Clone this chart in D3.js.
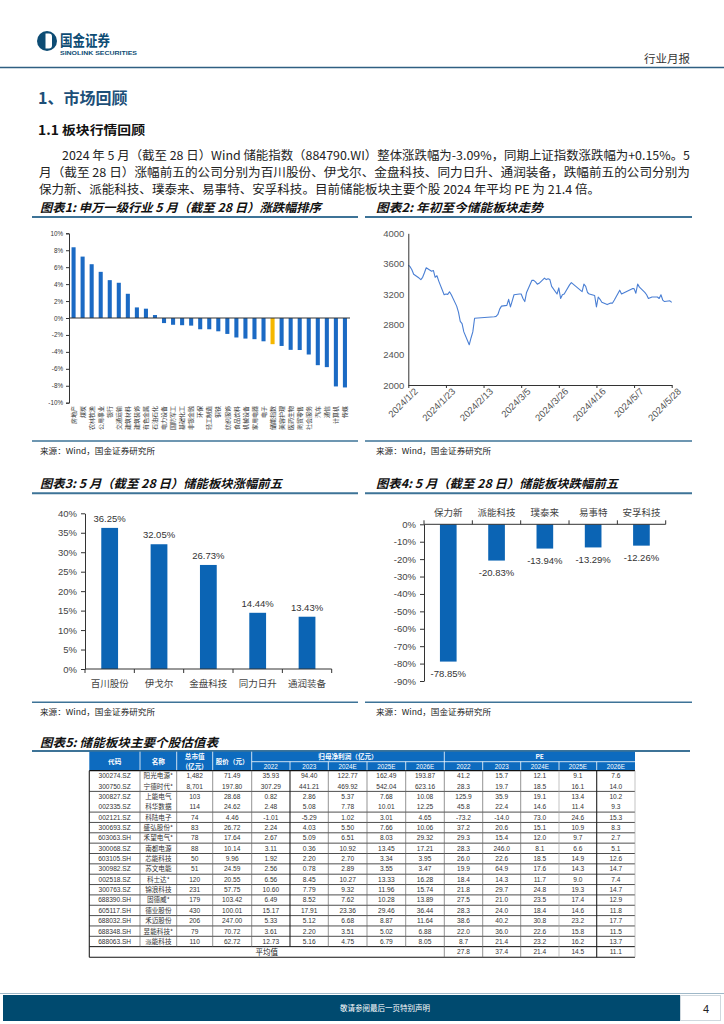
<!DOCTYPE html>
<html><head><meta charset="utf-8">
<script src="https://cdn.jsdelivr.net/npm/d3@7"></script>
<style>body{margin:0;background:#fff} svg{display:block}</style>
</head><body>
<svg id="page" width="724" height="1024"></svg>
<script>
// ---------------- DATA ----------------
const industries = ["房地产","煤炭","农林牧渔","公用事业","银行","交通运输","建筑材料","建筑装饰","有色金属","石油石化","电力设备","国防军工","基础化工","非银金融","环保","轻工制造","钢铁","纺织服饰","食品饮料","机械设备","家用电器","电子","储能指数","美容护理","医药生物","商贸零售","社会服务","汽车","通信","计算机","传媒"];
const industryChange = [8.35,7.25,6.35,5.45,4.47,4.16,2.86,1.25,1.1,0.35,-0.6,-0.8,-0.85,-0.9,-1.33,-1.33,-1.57,-1.88,-2.3,-2.43,-2.5,-2.75,-3.09,-3.3,-3.76,-3.78,-4.31,-5.57,-5.8,-8.08,-8.2];
const highlightIndustry = "储能指数";
const industryTicks = [-10,-8,-6,-4,-2,0,2,4,6,8,10];

const trendDates = ["2024-01-02","2024-01-03","2024-01-04","2024-01-05","2024-01-08","2024-01-09","2024-01-10","2024-01-11","2024-01-12","2024-01-15","2024-01-16","2024-01-17","2024-01-18","2024-01-19","2024-01-22","2024-01-23","2024-01-24","2024-01-25","2024-01-26","2024-01-29","2024-01-30","2024-01-31","2024-02-01","2024-02-02","2024-02-05","2024-02-06","2024-02-07","2024-02-08","2024-02-19","2024-02-20","2024-02-21","2024-02-22","2024-02-23","2024-02-26","2024-02-27","2024-02-28","2024-02-29","2024-03-01","2024-03-04","2024-03-05","2024-03-06","2024-03-07","2024-03-08","2024-03-11","2024-03-12","2024-03-13","2024-03-14","2024-03-15","2024-03-18","2024-03-19","2024-03-20","2024-03-21","2024-03-22","2024-03-25","2024-03-26","2024-03-27","2024-03-28","2024-03-29","2024-04-01","2024-04-02","2024-04-03","2024-04-08","2024-04-09","2024-04-10","2024-04-11","2024-04-12","2024-04-15","2024-04-16","2024-04-17","2024-04-18","2024-04-19","2024-04-22","2024-04-23","2024-04-24","2024-04-25","2024-04-26","2024-04-29","2024-04-30","2024-05-06","2024-05-07","2024-05-08","2024-05-09","2024-05-10","2024-05-13","2024-05-14","2024-05-15","2024-05-16","2024-05-17","2024-05-20","2024-05-21","2024-05-22","2024-05-23","2024-05-24","2024-05-27","2024-05-28"];
const trendValues = [3580,3560,3520,3460,3410,3390,3420,3480,3545,3500,3510,3420,3440,3370,3190,3200,3195,3230,3190,3040,2960,2840,2810,2700,2530,2620,2700,2880,2900,2905,2930,3000,3040,3050,3130,3030,3110,3190,3200,3200,3140,3100,3220,3380,3380,3360,3330,3340,3410,3390,3400,3390,3300,3200,3280,3140,3190,3200,3320,3350,3330,3230,3330,3300,3220,3200,3180,3030,3160,3130,3090,3060,3070,3080,3080,3120,3250,3200,3270,3270,3210,3330,3290,3220,3190,3140,3150,3160,3160,3140,3190,3120,3100,3110,3090];
const trendTickDates = ["2024-01-02","2024-01-23","2024-02-13","2024-03-05","2024-03-26","2024-04-16","2024-05-07","2024-05-28"];
const trendYTicks = [2000,2400,2800,3200,3600,4000];

const gainNames = ["百川股份","伊戈尔","金盘科技","同力日升","通润装备"];
const gainValues = [36.25,32.05,26.73,14.44,13.43];
const gainTicks = [0,5,10,15,20,25,30,35,40];
const lossNames = ["保力新","派能科技","璞泰来","易事特","安孚科技"];
const lossValues = [-78.85,-20.83,-13.94,-13.29,-12.26];
const lossTicks = [0,-10,-20,-30,-40,-50,-60,-70,-80,-90];

const tableYears = ["2022","2023","2024E","2025E","2026E"];
const stockCodes = ["300274.SZ","300750.SZ","300827.SZ","002335.SZ","002121.SZ","300693.SZ","603063.SH","300068.SZ","603105.SH","300982.SZ","002518.SZ","300763.SZ","688390.SH","605117.SH","688032.SH","688348.SH","688063.SH"];
const stockNames = ["阳光电源*","宁德时代*","上能电气","科华数据","科陆电子","盛弘股份*","禾望电气*","南都电源","芯能科技","苏文电能","科士达*","锦浪科技","固德威*","德业股份","禾迈股份","昱能科技*","派能科技"];
const marketCaps = ["1,482","8,701","103","114","74","83","78","88","50","51","120","231","179","430","206","79","110"];
const stockPrices = ["71.49","197.80","28.68","24.62","4.46","26.72","17.64","10.14","9.96","24.59","20.55","57.75","103.42","100.01","247.00","70.72","62.72"];
const profit2022 = ["35.93","307.29","0.82","2.48","-1.01","2.24","2.67","3.11","1.92","2.56","6.56","10.60","6.49","15.17","5.33","3.61","12.73"];
const profit2023 = ["94.40","441.21","2.86","5.08","-5.29","4.03","5.09","0.36","2.20","0.78","8.45","7.79","8.52","17.91","5.12","2.20","5.16"];
const profit2024E = ["122.77","469.92","5.37","7.78","1.02","5.50","6.51","10.92","2.70","2.89","10.27","9.32","7.62","23.36","6.68","3.51","4.75"];
const profit2025E = ["162.49","542.04","7.68","10.01","3.01","7.66","8.03","13.45","3.34","3.55","13.33","11.96","10.28","29.46","8.87","5.02","6.79"];
const profit2026E = ["193.87","623.16","10.08","12.25","4.65","10.06","29.32","17.21","3.95","3.47","16.28","15.74","13.89","36.44","11.64","6.88","8.05"];
const pe2022 = ["41.2","28.3","125.9","45.8","-73.2","37.2","29.3","28.3","26.0","19.9","18.4","21.8","27.5","28.3","38.6","22.0","8.7"];
const pe2023 = ["15.7","19.7","35.9","22.4","-14.0","20.6","15.4","246.0","22.6","64.9","14.3","29.7","21.0","24.0","40.2","36.0","21.4"];
const pe2024E = ["12.1","18.5","19.1","14.6","73.0","15.1","12.0","8.1","18.5","17.6","11.7","24.8","23.5","18.4","30.8","22.6","23.2"];
const pe2025E = ["9.1","16.1","13.4","11.4","24.6","10.9","9.7","6.6","14.9","14.3","9.0","19.3","17.4","14.6","23.2","15.8","16.2"];
const pe2026E = ["7.6","14.0","10.2","9.3","15.3","8.3","2.7","5.1","12.6","14.7","7.4","14.7","12.9","11.8","17.7","11.5","13.7"];
const peAverage = ["27.8","37.4","21.4","14.5","11.1"];

// ---------------- DRAW ----------------
const svg = d3.select("#page");
const CJK = "'Noto Sans CJK SC','Noto Sans',sans-serif";
const LAT = "'Liberation Sans',Arial,'Noto Sans CJK SC',sans-serif";
const DARK = "#0d4c74";

// header
svg.append("circle").attr("cx",47).attr("cy",41).attr("r",10).attr("fill",DARK);
svg.append("path").attr("d","M45.5,33.5 h3.5 a3,3 0 0 1 3,3 v9 a3,3 0 0 1 -3,3 h-3.5 z").attr("fill","#fff");
svg.append("text").attr("x",60).attr("y",45.5).attr("font-family",CJK).attr("font-weight","bold")
  .attr("font-size",15).attr("fill",DARK).attr("textLength",50).attr("lengthAdjust","spacingAndGlyphs").text("国金证券");
svg.append("text").attr("x",60).attr("y",55).attr("font-family",LAT).attr("font-weight","bold")
  .attr("font-size",5.6).attr("fill",DARK).attr("textLength",77).attr("lengthAdjust","spacingAndGlyphs").text("SINOLINK SECURITIES");
svg.append("text").attr("x",690).attr("y",63).attr("text-anchor","end").attr("font-family",CJK)
  .attr("font-size",11.5).attr("fill","#333").text("行业月报");
svg.append("line").attr("x1",0).attr("x2",724).attr("y1",67.5).attr("y2",67.5).attr("stroke","#2f5f82").attr("stroke-width",1.5);

svg.append("text").attr("x",38).attr("y",104).attr("font-family",CJK).attr("font-weight","bold")
  .attr("font-size",16).attr("fill","#1d4f78").text("1、市场回顾");
svg.append("text").attr("x",38).attr("y",134.5).attr("font-family",CJK).attr("font-weight",600)
  .attr("font-size",12.5).attr("fill","#111").attr("textLength",107).attr("lengthAdjust","spacingAndGlyphs").text("1.1 板块行情回顾");

const paraLines = [
  {x:62, y:159.5, w:628, t:"2024 年 5 月（截至 28 日）Wind 储能指数（884790.WI）整体涨跌幅为-3.09%，同期上证指数涨跌幅为+0.15%。5"},
  {x:39, y:176.5, w:651, t:"月（截至 28 日）涨幅前五的公司分别为百川股份、伊戈尔、金盘科技、同力日升、通润装备，跌幅前五的公司分别为"},
  {x:39, y:193.5, w:561, t:"保力新、派能科技、璞泰来、易事特、安孚科技。目前储能板块主要个股 2024 年平均 PE 为 21.4 倍。"}
];
paraLines.forEach(p => svg.append("text").attr("x",p.x).attr("y",p.y).attr("font-family",CJK)
  .attr("font-size",12).attr("fill","#222").attr("textLength",p.w).attr("lengthAdjust","spacingAndGlyphs").text(p.t));

function chartTitle(x, y, w, txt, lx1, lx2, ly) {
  svg.append("text").attr("x",x).attr("y",y).attr("font-family",CJK).attr("font-weight","bold")
    .attr("font-style","italic").attr("font-size",12).attr("fill","#111")
    .attr("textLength",w).attr("lengthAdjust","spacingAndGlyphs").text(txt);
  svg.append("line").attr("x1",lx1).attr("x2",lx2).attr("y1",ly).attr("y2",ly).attr("stroke","#3d7397").attr("stroke-width",2);
}
function source(x, y, lx1, lx2, ly) {
  svg.append("line").attr("x1",lx1).attr("x2",lx2).attr("y1",ly).attr("y2",ly).attr("stroke","#3d7397").attr("stroke-width",1.5);
  svg.append("text").attr("x",x).attr("y",y).attr("font-family",CJK).attr("font-size",7.5).attr("fill","#222")
    .attr("textLength",115).attr("lengthAdjust","spacingAndGlyphs").text("来源：Wind，国金证券研究所");
}
function styleAxis(g, fs, col) {
  g.selectAll("path.domain").attr("stroke","#333").attr("stroke-width",1);
  g.selectAll(".tick line").attr("stroke","#333");
  g.selectAll("text").attr("font-family",LAT).attr("font-size",fs).attr("fill",col||"#333");
}

// ---- Chart 1 ----
chartTitle(40, 212, 281, "图表1: 申万一级行业 5 月（截至 28 日）涨跌幅排序", 32, 358, 217);
{
  const x = d3.scaleBand().domain(industries).range([69, 349.5]).paddingInner(0.55).paddingOuter(0.28);
  const y = d3.scaleLinear().domain([-10,10]).range([402.7,233.3]);
  const g = svg.append("g");
  g.selectAll("rect").data(industries).join("rect")
    .attr("x", d => x(d)).attr("width", x.bandwidth())
    .attr("y", (d,i) => y(Math.max(0, industryChange[i])))
    .attr("height", (d,i) => Math.abs(y(industryChange[i]) - y(0)))
    .attr("fill", d => d === highlightIndustry ? "#f5b700" : "#1b6ac4");
  const ya = svg.append("g").attr("transform","translate(69,0)")
    .call(d3.axisLeft(y).tickValues(industryTicks).tickSize(3).tickPadding(3).tickFormat(d => d + "%"));
  styleAxis(ya, 6.3);
  svg.append("line").attr("x1",69).attr("x2",350).attr("y1",y(0)).attr("y2",y(0)).attr("stroke","#333").attr("stroke-width",1);
  svg.append("g").selectAll("text").data(industries).join("text")
    .attr("transform", d => `translate(${x(d) + x.bandwidth()/2 + 2.2},406) rotate(-90)`)
    .attr("text-anchor","end").attr("font-family",CJK).attr("font-size",6).attr("fill","#333").text(d => d);
}
source(40, 454, 32, 358, 441);

// ---- Chart 2 ----
chartTitle(376, 212, 167, "图表2: 年初至今储能板块走势", 365, 692, 217);
{
  const parse = d3.timeParse("%Y-%m-%d");
  const dates = trendDates.map(parse);
  const x = d3.scaleTime().domain([parse("2024-01-02"), parse("2024-05-28")]).range([408.3, 671.7]);
  const y = d3.scaleLinear().domain([2000,4000]).range([385,233.3]);
  const line = d3.line().x((d,i) => x(dates[i])).y(d => y(d));
  svg.append("path").datum(trendValues).attr("d", line).attr("fill","none")
    .attr("stroke","#4a7fd4").attr("stroke-width",1.1).attr("stroke-linejoin","round");
  const ya = svg.append("g").attr("transform","translate(408.3,0)")
    .call(d3.axisLeft(y).tickValues(trendYTicks).tickSize(0).tickPadding(4).tickFormat(d3.format("d")));
  styleAxis(ya, 9.5, "#555");
  const fmt = d3.timeFormat("%Y/%-m/%-d");
  const xa = svg.append("g").attr("transform","translate(0,385)")
    .call(d3.axisBottom(x).tickValues(trendTickDates.map(parse)).tickSize(3).tickSizeOuter(0).tickFormat(fmt));
  styleAxis(xa, 9.5, "#555");
  xa.selectAll("text").attr("text-anchor","end").attr("dx","0.2em").attr("dy","0.6em")
    .attr("transform","rotate(-45)");
}
source(376, 454, 365, 692, 441);

// ---- Chart 3 ----
chartTitle(40, 487.5, 242, "图表3: 5 月（截至 28 日）储能板块涨幅前五", 32, 358, 493.3);
{
  const x = d3.scaleBand().domain(gainNames).range([85, 331.7]).paddingInner(0.66).paddingOuter(0.33);
  const y = d3.scaleLinear().domain([0,40]).range([669,513.3]);
  svg.append("g").selectAll("rect").data(gainNames).join("rect")
    .attr("x", d => x(d)).attr("width", x.bandwidth())
    .attr("y", (d,i) => y(gainValues[i])).attr("height", (d,i) => y(0) - y(gainValues[i]))
    .attr("fill","#0b64b4");
  svg.append("g").selectAll("text").data(gainNames).join("text")
    .attr("x", d => x(d) + x.bandwidth()/2).attr("y", (d,i) => y(gainValues[i]) - 6)
    .attr("text-anchor","middle").attr("font-family",LAT).attr("font-size",9.5).attr("fill","#333")
    .text((d,i) => gainValues[i].toFixed(2) + "%");
  const ya = svg.append("g").attr("transform","translate(85,0)")
    .call(d3.axisLeft(y).tickValues(gainTicks).tickSize(4).tickSizeOuter(0).tickPadding(4).tickFormat(d => d + "%"));
  styleAxis(ya, 9.5, "#444");
  svg.append("line").attr("x1",85).attr("x2",331.7).attr("y1",669).attr("y2",669).attr("stroke","#333");
  svg.append("g").selectAll("line").data(d3.range(6)).join("line")
    .attr("x1", i => 85 + i*(331.7-85)/5).attr("x2", i => 85 + i*(331.7-85)/5)
    .attr("y1",669).attr("y2",673).attr("stroke","#333");
  svg.append("g").selectAll("text").data(gainNames).join("text")
    .attr("x", d => x(d) + x.bandwidth()/2).attr("y", 686.5).attr("text-anchor","middle")
    .attr("font-family",CJK).attr("font-size",9.5).attr("fill","#444").text(d => d);
}
source(40, 714.5, 32, 358, 702.3);

// ---- Chart 4 ----
chartTitle(376, 487.5, 242, "图表4: 5 月（截至 28 日）储能板块跌幅前五", 365, 692, 493.3);
{
  const x = d3.scaleBand().domain(lossNames).range([424, 665.7]).paddingInner(0.655).paddingOuter(0.33);
  const y = d3.scaleLinear().domain([-90,0]).range([681,524.3]);
  svg.append("g").selectAll("rect").data(lossNames).join("rect")
    .attr("x", d => x(d)).attr("width", x.bandwidth())
    .attr("y", y(0)).attr("height", (d,i) => y(lossValues[i]) - y(0))
    .attr("fill","#0b64b4");
  svg.append("g").selectAll("text").data(lossNames).join("text")
    .attr("x", d => x(d) + x.bandwidth()/2).attr("y", (d,i) => y(lossValues[i]) + 15.5)
    .attr("text-anchor","middle").attr("font-family",LAT).attr("font-size",9.5).attr("fill","#333")
    .text((d,i) => lossValues[i].toFixed(2) + "%");
  const ya = svg.append("g").attr("transform","translate(424,0)")
    .call(d3.axisLeft(y).tickValues(lossTicks).tickSize(4).tickSizeOuter(0).tickPadding(4).tickFormat(d => d + "%"));
  styleAxis(ya, 9.5, "#444");
  svg.append("line").attr("x1",424).attr("x2",665.7).attr("y1",524.3).attr("y2",524.3).attr("stroke","#333");
  svg.append("g").selectAll("line").data(d3.range(6)).join("line")
    .attr("x1", i => 424 + i*(665.7-424)/5).attr("x2", i => 424 + i*(665.7-424)/5)
    .attr("y1",524.3).attr("y2",520.3).attr("stroke","#333");
  svg.append("g").selectAll("text").data(lossNames).join("text")
    .attr("x", d => x(d) + x.bandwidth()/2).attr("y", 516).attr("text-anchor","middle")
    .attr("font-family",CJK).attr("font-size",9.5).attr("fill","#444").text(d => d);
}
source(376, 714.5, 365, 692, 702.3);

// ---- Table ----
chartTitle(40, 747, 178, "图表5: 储能板块主要个股估值表", 32, 690, 751);
{
  const colX = [89.3,140,176.7,212.7,251.7,290,328.3,367,405.7,444.3,482.7,520.7,559,596.7,635];
  const top = 751.7, subY = 761.7, headB = 770.7, rowH = 10.35;
  const nRows = stockCodes.length;
  const bodyB = headB + nRows*rowH, avgB = bodyB + 10.6;
  const HB = "#0d6bbf";
  const tg = svg.append("g");
  tg.append("rect").attr("x",colX[0]).attr("y",top).attr("width",colX[14]-colX[0]).attr("height",headB-top).attr("fill",HB);
  [1,2,3,4,9].forEach(i => tg.append("line").attr("x1",colX[i]).attr("x2",colX[i]).attr("y1",top).attr("y2",headB).attr("stroke","#fff").attr("stroke-width",0.8));
  [5,6,7,8,10,11,12,13].forEach(i => tg.append("line").attr("x1",colX[i]).attr("x2",colX[i]).attr("y1",subY).attr("y2",headB).attr("stroke","#fff").attr("stroke-width",0.8));
  tg.append("line").attr("x1",colX[4]).attr("x2",colX[14]).attr("y1",subY).attr("y2",subY).attr("stroke","#fff").attr("stroke-width",0.8);
  const ht = (x,y,t) => tg.append("text").attr("x",x).attr("y",y).attr("text-anchor","middle")
    .attr("font-family",CJK).attr("font-weight","bold").attr("font-size",6.6).attr("fill","#fff").text(t);
  const mid = (a,b) => (colX[a]+colX[b])/2;
  ht(mid(0,1), 763.5, "代码"); ht(mid(1,2), 763.5, "名称");
  ht(mid(2,3), 759, "总市值"); ht(mid(2,3), 768.5, "(亿元)");
  ht(mid(3,4), 763.5, "股价（元）");
  ht(mid(4,9), 759.2, "归母净利润（亿元）"); ht(mid(9,14), 759.2, "PE");
  tableYears.forEach((yr,k) => {
    tg.append("text").attr("x",mid(4+k,5+k)).attr("y",768.8).attr("text-anchor","middle").attr("font-family",LAT)
      .attr("font-size",6.3).attr("fill","#fff").text(yr);
    tg.append("text").attr("x",mid(9+k,10+k)).attr("y",768.8).attr("text-anchor","middle").attr("font-family",LAT)
      .attr("font-size",6.3).attr("fill","#fff").text(yr);
  });
  const columns = [stockCodes, stockNames, marketCaps, stockPrices, profit2022, profit2023, profit2024E, profit2025E, profit2026E, pe2022, pe2023, pe2024E, pe2025E, pe2026E];
  columns.forEach((col,c) => {
    tg.append("g").selectAll("text").data(col).join("text")
      .attr("x", mid(c,c+1)).attr("y", (d,i) => headB + i*rowH + rowH/2 + 2.4)
      .attr("text-anchor","middle").attr("font-family", c===1 ? CJK : LAT)
      .attr("font-size", 6.6).attr("fill","#333").text(d => d);
  });
  tg.append("text").attr("x",mid(0,9)).attr("y",bodyB + 8).attr("text-anchor","middle").attr("font-family",CJK)
    .attr("font-size",7.5).attr("fill","#222").text("平均值");
  peAverage.forEach((v,k) => tg.append("text").attr("x",mid(9+k,10+k)).attr("y",bodyB + 7.8).attr("text-anchor","middle")
    .attr("font-family",LAT).attr("font-size",6.6).attr("fill","#333").text(v));
  d3.range(1, nRows).filter(i => i !== 1 && i !== 3).forEach(i =>
    tg.append("line").attr("x1",colX[0]).attr("x2",colX[14]).attr("y1",headB+i*rowH).attr("y2",headB+i*rowH).attr("stroke","#222").attr("stroke-width",0.8));
  tg.append("line").attr("x1",colX[0]).attr("x2",colX[14]).attr("y1",headB).attr("y2",headB).attr("stroke","#111").attr("stroke-width",1.2);
  tg.append("line").attr("x1",colX[0]).attr("x2",colX[14]).attr("y1",bodyB).attr("y2",bodyB).attr("stroke","#111").attr("stroke-width",1);
  tg.append("line").attr("x1",colX[0]).attr("x2",colX[14]).attr("y1",avgB).attr("y2",avgB).attr("stroke","#111").attr("stroke-width",1.2);
  for (let i = 0; i < 15; i++) {
    const dark = (i === 0 || i === 5 || i === 13);
    const light = (i === 12 || i === 14);
    const y2 = (i >= 1 && i <= 8) ? bodyB : avgB;
    tg.append("line").attr("x1",colX[i]).attr("x2",colX[i]).attr("y1",headB).attr("y2",y2)
      .attr("stroke", dark ? "#222" : (light ? "#aaa" : "#666")).attr("stroke-width", dark ? 1.1 : 0.7);
  }
}

// footer
svg.append("line").attr("x1",0).attr("x2",724).attr("y1",993.5).attr("y2",993.5).attr("stroke","#9fb8c8").attr("stroke-width",1);
svg.append("rect").attr("x",3).attr("y",995).attr("width",677).attr("height",26).attr("fill","#004a6f");
svg.append("rect").attr("x",680.5).attr("y",995.5).attr("width",40).attr("height",25).attr("fill","#fff").attr("stroke","#cfd8de");
svg.append("text").attr("x",385).attr("y",1011).attr("text-anchor","middle").attr("font-family",CJK)
  .attr("font-size",7.5).attr("fill","#fff").text("敬请参阅最后一页特别声明");
svg.append("text").attr("x",706).attr("y",1013).attr("text-anchor","middle").attr("font-family",LAT)
  .attr("font-size",11).attr("fill","#222").text("4");
</script>
</body></html>
